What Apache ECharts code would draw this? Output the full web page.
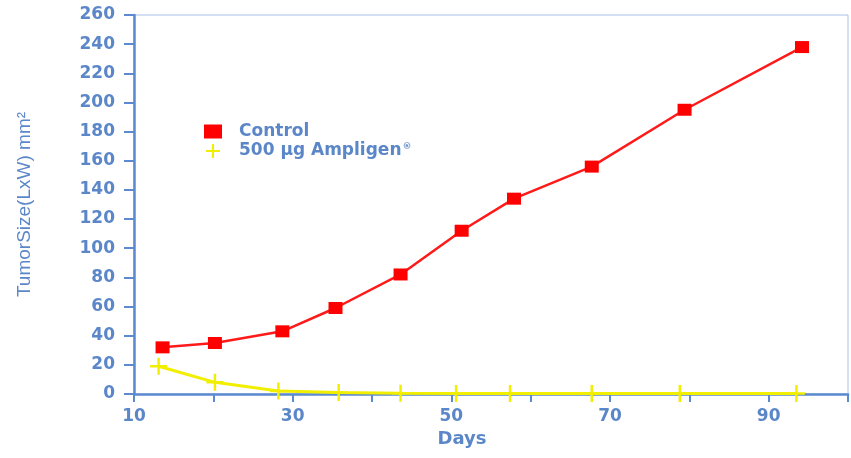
<!DOCTYPE html>
<html>
<head>
<meta charset="utf-8">
<script src="https://cdn.jsdelivr.net/npm/echarts@6/dist/echarts.min.js"></script>
<style>
html,body{margin:0;padding:0;background:#fff;}
#chart{width:851px;height:458px;}
</style>
</head>
<body>
<div id="chart"></div>
<script>
var controlDays = [13.6, 20.2, 28.7, 35.4, 43.6, 51.3, 57.9, 67.7, 79.4, 94.2];
var controlSize = [32, 35, 43, 59, 82, 112, 134, 156, 195, 238];
var ampligenDays = [13.1, 20.2, 28.2, 35.8, 43.6, 50.6, 57.4, 67.7, 78.8, 93.5];
var ampligenSize = [19, 8, 2, 1, 0.5, 0.3, 0.3, 0.3, 0.3, 0.3];
var xTickLabels = ['10', '30', '50', '70', '90'];
var seriesNames = ['Control', '500 \u00b5g Ampligen'];

var blue = '#5b8ad0';
var textBlue = '#5b87c9';
var font = 'DejaVu Sans';

function pairs(xs, ys) {
  return xs.map(function (x, i) { return [x, ys[i]]; });
}

var plusPath = 'path://M7,0h2.4v7h7v2.4h-7v7h-2.4v-7h-7v-2.4h7z';

var chart = echarts.init(document.getElementById('chart'));
chart.setOption({
  animation: false,
  backgroundColor: '#ffffff',
  grid: {
    left: 134, right: 1, top: 15, bottom: 64,
    show: true, borderColor: '#a9c0e6', borderWidth: 1, backgroundColor: 'transparent'
  },
  legend: {
    orient: 'vertical',
    left: 199, top: 118,
    itemWidth: 18, itemHeight: 14, itemGap: 2,
    data: [
      { name: seriesNames[0], icon: 'rect', itemStyle: { color: '#ff0000' } },
      { name: seriesNames[1], icon: plusPath, itemStyle: { color: '#f2ee00' } }
    ],
    formatter: function (name) {
      return name === seriesNames[1] ? name + '{sup|\u00ae}' : name;
    },
    textStyle: {
      fontFamily: font, fontSize: 17, fontWeight: 'bold', color: textBlue,
      padding: [0, 0, 0, 12],
      rich: { sup: { fontFamily: font, fontSize: 9, fontWeight: 'bold', color: textBlue, padding: [0, 0, 9, 1] } }
    }
  },
  xAxis: {
    type: 'value', min: 10, max: 100, interval: 10,
    name: 'Days', nameLocation: 'middle', nameGap: 36,
    nameTextStyle: { fontFamily: font, fontSize: 18, fontWeight: 'bold', color: textBlue, padding: [0, 58, 0, 0] },
    axisLine: { show: true, lineStyle: { color: blue, width: 2.5 } },
    axisTick: { show: true, length: 8, lineStyle: { color: blue, width: 2 } },
    splitLine: { show: false },
    axisLabel: {
      margin: 14, fontFamily: font, fontSize: 17, fontWeight: 'bold', color: textBlue,
      formatter: function (v) {
        var s = String(v);
        return xTickLabels.indexOf(s) >= 0 ? s : '';
      }
    }
  },
  yAxis: {
    type: 'value', min: 0, max: 260, interval: 20,
    name: 'TumorSize(LxW) mm\u00b2', nameLocation: 'middle', nameGap: 100,
    nameTextStyle: { fontFamily: 'Liberation Sans Narrow, Liberation Sans', fontSize: 19, color: textBlue },
    axisLine: { show: true, lineStyle: { color: blue, width: 2.5 } },
    axisTick: { show: true, inside: false, length: 10, lineStyle: { color: blue, width: 2 } },
    splitLine: { show: false },
    axisLabel: { margin: 19, fontFamily: font, fontSize: 17, fontWeight: 'bold', color: textBlue }
  },
  series: [
    {
      name: seriesNames[0], type: 'line',
      data: pairs(controlDays, controlSize),
      symbol: 'rect', symbolSize: [14, 12],
      lineStyle: { color: '#ff1a1a', width: 2.5 },
      itemStyle: { color: '#ff0000' },
      z: 3
    },
    {
      name: seriesNames[1], type: 'line',
      data: pairs(ampligenDays, ampligenSize),
      symbol: plusPath, symbolSize: 17,
      lineStyle: { color: '#f2ee00', width: 3 },
      itemStyle: { color: '#f2ee00' },
      z: 4
    }
  ]
});
</script>
</body>
</html>
